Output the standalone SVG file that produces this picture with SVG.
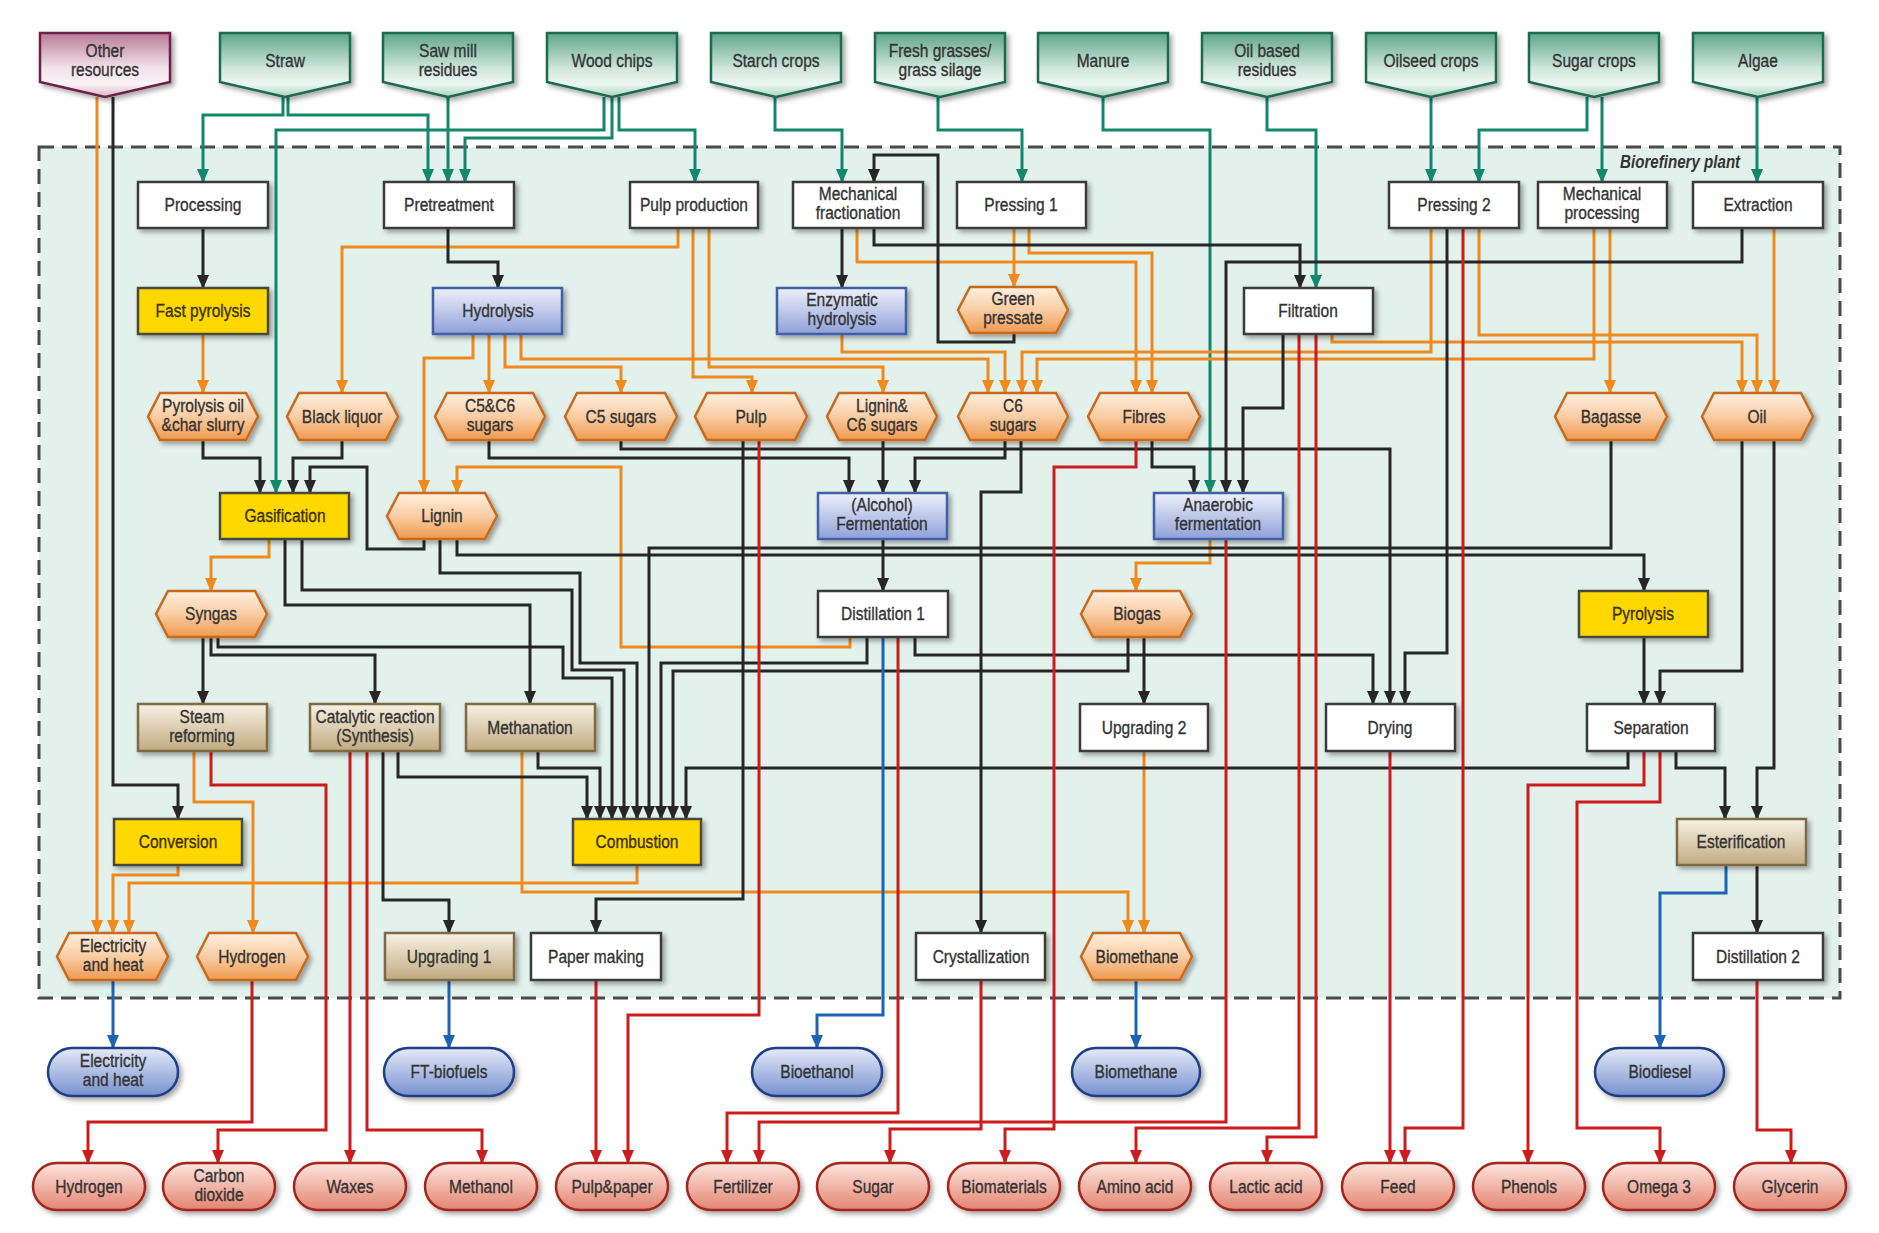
<svg xmlns="http://www.w3.org/2000/svg" width="1879" height="1233" viewBox="0 0 1879 1233">
<defs>
<style>
.t{font-family:"Liberation Sans",Arial,sans-serif;font-size:18.5px;fill:#333;stroke:#333;stroke-width:0.35px;text-anchor:middle;transform-box:fill-box;transform-origin:center;transform:scaleX(0.84);}
.ty{fill:#3a3000;stroke:#3a3000}
.lbl{font-family:"Liberation Sans",Arial,sans-serif;font-size:18px;font-weight:bold;font-style:italic;fill:#333;text-anchor:middle;transform-box:fill-box;transform-origin:center;transform:scaleX(0.84);}
.c path{fill:none;stroke-width:3;stroke-linejoin:miter}
.g{stroke:#12876a;marker-end:url(#ag)}
.o{stroke:#f08a1c;marker-end:url(#ao)}
.k{stroke:#262626;marker-end:url(#ak)}
.r{stroke:#cc1c1c;marker-end:url(#ar)}
.b{stroke:#1c64b4;marker-end:url(#ab)}
.src{fill:url(#gSrc);stroke:#1b6a4f;stroke-width:2.5;filter:url(#sh)}
.osrc{fill:url(#gOth);stroke:#6a2347;stroke-width:2.5;filter:url(#sh)}
.wb{fill:#fff;stroke:#3a3a3a;stroke-width:2.5;filter:url(#sh)}
.yb{fill:#ffd800;stroke:#4a4a3a;stroke-width:2.5;filter:url(#sh)}
.bb{fill:url(#gBlue);stroke:#3f5fa6;stroke-width:2.5;filter:url(#sh)}
.tb{fill:url(#gTan);stroke:#7d6a45;stroke-width:2.5;filter:url(#sh)}
.hx{fill:url(#gHex);stroke:#c8691c;stroke-width:2.5;filter:url(#sh)}
.bp{fill:url(#gBP);stroke:#1e3f85;stroke-width:2.5;filter:url(#sh)}
.rp{fill:url(#gRP);stroke:#a2281d;stroke-width:2.5;filter:url(#sh)}
</style>
<linearGradient id="gSrc" x1="0" y1="0" x2="0" y2="1"><stop offset="0" stop-color="#5ea58b"/><stop offset="0.55" stop-color="#cfe6dc"/><stop offset="0.8" stop-color="#eef7f3"/><stop offset="1" stop-color="#a8d2c2"/></linearGradient>
<linearGradient id="gOth" x1="0" y1="0" x2="0" y2="1"><stop offset="0" stop-color="#b97a98"/><stop offset="0.55" stop-color="#f3e3ea"/><stop offset="0.8" stop-color="#fbf3f6"/><stop offset="1" stop-color="#d8b4c4"/></linearGradient>
<linearGradient id="gBlue" x1="0" y1="0" x2="0" y2="1"><stop offset="0" stop-color="#eef1fb"/><stop offset="1" stop-color="#8ea0d8"/></linearGradient>
<linearGradient id="gTan" x1="0" y1="0" x2="0" y2="1"><stop offset="0" stop-color="#f8f2e4"/><stop offset="1" stop-color="#c0aa80"/></linearGradient>
<linearGradient id="gHex" x1="0" y1="0" x2="0" y2="1"><stop offset="0" stop-color="#fff0e0"/><stop offset="0.5" stop-color="#f9cda4"/><stop offset="1" stop-color="#ef9a4f"/></linearGradient>
<linearGradient id="gBP" x1="0" y1="0" x2="0" y2="1"><stop offset="0" stop-color="#e4eaf8"/><stop offset="1" stop-color="#7790cf"/></linearGradient>
<linearGradient id="gRP" x1="0" y1="0" x2="0" y2="1"><stop offset="0" stop-color="#fde6df"/><stop offset="1" stop-color="#e48470"/></linearGradient>
<filter id="sh" x="-10%" y="-10%" width="130%" height="150%"><feDropShadow dx="3" dy="3" stdDeviation="2.5" flood-color="#000" flood-opacity="0.35"/></filter>
<marker id="ag" viewBox="0 0 14 12" refX="13" refY="6" markerWidth="14" markerHeight="12" markerUnits="userSpaceOnUse" orient="auto"><path d="M0,0 L14,6 L0,12 z" fill="#12876a"/></marker>
<marker id="ao" viewBox="0 0 14 12" refX="13" refY="6" markerWidth="14" markerHeight="12" markerUnits="userSpaceOnUse" orient="auto"><path d="M0,0 L14,6 L0,12 z" fill="#f08a1c"/></marker>
<marker id="ak" viewBox="0 0 14 12" refX="13" refY="6" markerWidth="14" markerHeight="12" markerUnits="userSpaceOnUse" orient="auto"><path d="M0,0 L14,6 L0,12 z" fill="#262626"/></marker>
<marker id="ar" viewBox="0 0 14 12" refX="13" refY="6" markerWidth="14" markerHeight="12" markerUnits="userSpaceOnUse" orient="auto"><path d="M0,0 L14,6 L0,12 z" fill="#cc1c1c"/></marker>
<marker id="ab" viewBox="0 0 14 12" refX="13" refY="6" markerWidth="14" markerHeight="12" markerUnits="userSpaceOnUse" orient="auto"><path d="M0,0 L14,6 L0,12 z" fill="#1c64b4"/></marker>
</defs>
<rect width="1879" height="1233" fill="#fff"/>
<g id="plant">
<rect x="39" y="147" width="1801" height="851" fill="#e3f1ed" stroke="#4a4a4a" stroke-width="3" stroke-dasharray="15 8"/>
<text class="lbl" x="1680" y="168">Biorefinery plant</text>
</g>
<g id="connectors" class="c">
<path class="g" d="M283 97 V115 H203 V182"/>
<path class="g" d="M288 97 V115 H428 V182"/>
<path class="g" d="M448 97 V182"/>
<path class="g" d="M612 97 V138 H465 V182"/>
<path class="g" d="M604 97 V130 H276 V493"/>
<path class="g" d="M619 97 V130 H695 V182"/>
<path class="g" d="M775 97 V130 H842 V182"/>
<path class="g" d="M938 97 V130 H1022 V182"/>
<path class="g" d="M1103 97 V130 H1210 V493"/>
<path class="g" d="M1267 97 V130 H1316 V288"/>
<path class="g" d="M1431 97 V182"/>
<path class="g" d="M1587 97 V130 H1479 V182"/>
<path class="g" d="M1602 97 V182"/>
<path class="g" d="M1757 97 V182"/>
<path class="o" d="M97 97 V933"/>
<path class="o" d="M203 334 V393"/>
<path class="o" d="M678 228 V247 H342 V393"/>
<path class="o" d="M693 228 V377 H752 V393"/>
<path class="o" d="M709 228 V367 H883 V393"/>
<path class="o" d="M473 334 V358 H424 V493"/>
<path class="o" d="M489 334 V393"/>
<path class="o" d="M505 334 V367 H621 V393"/>
<path class="o" d="M521 334 V359 H988 V393"/>
<path class="o" d="M842 334 V352 H1005 V393"/>
<path class="o" d="M1431 228 V352 H1022 V393"/>
<path class="o" d="M1594 228 V359 H1037 V393"/>
<path class="o" d="M857 228 V262 H1136 V393"/>
<path class="o" d="M1014 228 V287"/>
<path class="o" d="M1029 228 V253 H1152 V393"/>
<path class="o" d="M1332 334 V342 H1742 V393"/>
<path class="o" d="M1479 228 V335 H1757 V393"/>
<path class="o" d="M1774 228 V393"/>
<path class="o" d="M1610 228 V393"/>
<path class="o" d="M269 539 V557 H211 V591"/>
<path class="o" d="M850 637 V647 H621 V467 H457 V493"/>
<path class="o" d="M1210 539 V563 H1136 V591"/>
<path class="o" d="M194 751 V802 H253 V933"/>
<path class="o" d="M178 865 V875 H113 V933"/>
<path class="o" d="M637 865 V883 H129 V933"/>
<path class="o" d="M522 751 V892 H1128 V933"/>
<path class="o" d="M1144 751 V933"/>
<path class="k" d="M113 97 V785 H178 V819"/>
<path class="k" d="M203 228 V288"/>
<path class="k" d="M448 228 V262 H498 V288"/>
<path class="k" d="M842 228 V288"/>
<path class="k" d="M874 228 V245 H1300 V288"/>
<path class="k" d="M1014 333 V342 H938 V155 H874 V182"/>
<path class="k" d="M1742 228 V262 H1226 V493"/>
<path class="k" d="M1283 334 V408 H1243 V493"/>
<path class="k" d="M203 440 V458 H260 V493"/>
<path class="k" d="M342 440 V458 H293 V493"/>
<path class="k" d="M424 539 V549 H367 V467 H310 V493"/>
<path class="k" d="M457 539 V555 H1644 V591"/>
<path class="k" d="M440 539 V573 H580 V663 H637 V819"/>
<path class="k" d="M489 440 V458 H849 V493"/>
<path class="k" d="M621 440 V449 H1390 V704"/>
<path class="k" d="M883 440 V493"/>
<path class="k" d="M1005 440 V458 H915 V493"/>
<path class="k" d="M1021 440 V492 H981 V933"/>
<path class="k" d="M1152 440 V467 H1194 V493"/>
<path class="k" d="M883 539 V591"/>
<path class="k" d="M285 539 V605 H530 V704"/>
<path class="k" d="M302 539 V590 H572 V670 H624 V819"/>
<path class="k" d="M203 637 V704"/>
<path class="k" d="M211 637 V655 H375 V704"/>
<path class="k" d="M218 637 V647 H563 V678 H612 V819"/>
<path class="k" d="M398 751 V777 H587 V819"/>
<path class="k" d="M538 751 V768 H600 V819"/>
<path class="k" d="M1611 440 V548 H649 V819"/>
<path class="k" d="M867 637 V663 H661 V819"/>
<path class="k" d="M1128 637 V671 H673 V819"/>
<path class="k" d="M1628 751 V768 H686 V819"/>
<path class="k" d="M915 637 V655 H1373 V704"/>
<path class="k" d="M1144 637 V704"/>
<path class="k" d="M1447 228 V653 H1405 V704"/>
<path class="k" d="M1644 637 V704"/>
<path class="k" d="M1742 440 V671 H1660 V704"/>
<path class="k" d="M1774 440 V768 H1757 V819"/>
<path class="k" d="M1676 751 V768 H1725 V819"/>
<path class="k" d="M1757 865 V933"/>
<path class="k" d="M743 440 V899 H596 V933"/>
<path class="k" d="M383 751 V900 H449 V933"/>
<path class="r" d="M252 980 V1122 H88 V1163"/>
<path class="r" d="M211 751 V785 H326 V1130 H218 V1163"/>
<path class="r" d="M350 751 V1163"/>
<path class="r" d="M367 751 V1130 H482 V1163"/>
<path class="r" d="M596 980 V1163"/>
<path class="r" d="M759 440 V1015 H628 V1163"/>
<path class="r" d="M898 637 V1113 H727 V1163"/>
<path class="r" d="M1226 539 V1122 H759 V1163"/>
<path class="r" d="M981 980 V1129 H890 V1163"/>
<path class="r" d="M1136 440 V467 H1054 V1129 H1005 V1163"/>
<path class="r" d="M1299 334 V1128 H1136 V1163"/>
<path class="r" d="M1316 334 V1137 H1267 V1163"/>
<path class="r" d="M1390 751 V1163"/>
<path class="r" d="M1463 228 V1128 H1405 V1163"/>
<path class="r" d="M1644 751 V785 H1528 V1163"/>
<path class="r" d="M1660 751 V802 H1577 V1128 H1660 V1163"/>
<path class="r" d="M1757 980 V1130 H1791 V1163"/>
<path class="b" d="M113 980 V1048"/>
<path class="b" d="M449 980 V1048"/>
<path class="b" d="M883 637 V1015 H817 V1048"/>
<path class="b" d="M1136 980 V1048"/>
<path class="b" d="M1726 865 V893 H1660 V1048"/>
</g>
<g id="n-other"><polygon class="osrc" points="40,33 170,33 170,82 105,97 40,82"/><text class="t" x="105" y="57">Other<tspan x="105" dy="19">resources</tspan></text></g>
<g id="n-straw"><polygon class="src" points="220,33 350,33 350,82 285,97 220,82"/><text class="t" x="285" y="67.5">Straw</text></g>
<g id="n-saw"><polygon class="src" points="383,33 513,33 513,82 448,97 383,82"/><text class="t" x="448" y="57">Saw mill<tspan x="448" dy="19">residues</tspan></text></g>
<g id="n-wood"><polygon class="src" points="547,33 677,33 677,82 612,97 547,82"/><text class="t" x="612" y="67.5">Wood chips</text></g>
<g id="n-starch"><polygon class="src" points="711,33 841,33 841,82 776,97 711,82"/><text class="t" x="776" y="67.5">Starch crops</text></g>
<g id="n-fresh"><polygon class="src" points="875,33 1005,33 1005,82 940,97 875,82"/><text class="t" x="940" y="57">Fresh grasses/<tspan x="940" dy="19">grass silage</tspan></text></g>
<g id="n-manure"><polygon class="src" points="1038,33 1168,33 1168,82 1103,97 1038,82"/><text class="t" x="1103" y="67.5">Manure</text></g>
<g id="n-oilres"><polygon class="src" points="1202,33 1332,33 1332,82 1267,97 1202,82"/><text class="t" x="1267" y="57">Oil based<tspan x="1267" dy="19">residues</tspan></text></g>
<g id="n-oilseed"><polygon class="src" points="1366,33 1496,33 1496,82 1431,97 1366,82"/><text class="t" x="1431" y="67.5">Oilseed crops</text></g>
<g id="n-sugarcrops"><polygon class="src" points="1529,33 1659,33 1659,82 1594,97 1529,82"/><text class="t" x="1594" y="67.5">Sugar crops</text></g>
<g id="n-algae"><polygon class="src" points="1693,33 1823,33 1823,82 1758,97 1693,82"/><text class="t" x="1758" y="67.5">Algae</text></g>
<g id="n-processing"><rect class="wb" x="138" y="182" width="130" height="46"/><text class="t" x="203" y="211.5">Processing</text></g>
<g id="n-pretreatment"><rect class="wb" x="384" y="182" width="130" height="46"/><text class="t" x="449" y="211.5">Pretreatment</text></g>
<g id="n-pulpprod"><rect class="wb" x="630" y="182" width="128" height="46"/><text class="t" x="694" y="211.5">Pulp production</text></g>
<g id="n-mechfrac"><rect class="wb" x="793" y="182" width="130" height="46"/><text class="t" x="858" y="200">Mechanical<tspan x="858" dy="19">fractionation</tspan></text></g>
<g id="n-pressing1"><rect class="wb" x="957" y="182" width="129" height="46"/><text class="t" x="1021" y="211.5">Pressing 1</text></g>
<g id="n-pressing2"><rect class="wb" x="1389" y="182" width="130" height="46"/><text class="t" x="1454" y="211.5">Pressing 2</text></g>
<g id="n-mechproc"><rect class="wb" x="1538" y="182" width="129" height="46"/><text class="t" x="1602" y="200">Mechanical<tspan x="1602" dy="19">processing</tspan></text></g>
<g id="n-extraction"><rect class="wb" x="1693" y="182" width="130" height="46"/><text class="t" x="1758" y="211.5">Extraction</text></g>
<g id="n-fastpyro"><rect class="yb" x="138" y="288" width="130" height="46"/><text class="t ty" x="203" y="317.5">Fast pyrolysis</text></g>
<g id="n-hydrolysis"><rect class="bb" x="433" y="288" width="129" height="46"/><text class="t" x="498" y="317.5">Hydrolysis</text></g>
<g id="n-enzymatic"><rect class="bb" x="777" y="288" width="129" height="46"/><text class="t" x="842" y="306">Enzymatic<tspan x="842" dy="19">hydrolysis</tspan></text></g>
<g id="n-greenpress"><polygon class="hx" points="970,287 1056,287 1068,310 1056,333 970,333 958,310"/><text class="t" x="1013" y="305">Green<tspan x="1013" dy="19">pressate</tspan></text></g>
<g id="n-filtration"><rect class="wb" x="1244" y="288" width="129" height="46"/><text class="t" x="1308" y="317.5">Filtration</text></g>
<g id="n-pyrooil"><polygon class="hx" points="160,393 246,393 258,416.5 246,440 160,440 148,416.5"/><text class="t" x="203" y="412">Pyrolysis oil<tspan x="203" dy="19">&amp;char slurry</tspan></text></g>
<g id="n-blackliq"><polygon class="hx" points="299,393 386,393 398,416.5 386,440 299,440 287,416.5"/><text class="t" x="342" y="423">Black liquor</text></g>
<g id="n-c5c6"><polygon class="hx" points="447,393 533,393 545,416.5 533,440 447,440 435,416.5"/><text class="t" x="490" y="412">C5&amp;C6<tspan x="490" dy="19">sugars</tspan></text></g>
<g id="n-c5"><polygon class="hx" points="577,393 665,393 677,416.5 665,440 577,440 565,416.5"/><text class="t" x="621" y="423">C5 sugars</text></g>
<g id="n-pulp"><polygon class="hx" points="707,393 795,393 807,416.5 795,440 707,440 695,416.5"/><text class="t" x="751" y="423">Pulp</text></g>
<g id="n-ligc6"><polygon class="hx" points="839,393 925,393 937,416.5 925,440 839,440 827,416.5"/><text class="t" x="882" y="412">Lignin&amp;<tspan x="882" dy="19">C6 sugars</tspan></text></g>
<g id="n-c6"><polygon class="hx" points="970,393 1056,393 1068,416.5 1056,440 970,440 958,416.5"/><text class="t" x="1013" y="412">C6<tspan x="1013" dy="19">sugars</tspan></text></g>
<g id="n-fibres"><polygon class="hx" points="1100,393 1188,393 1200,416.5 1188,440 1100,440 1088,416.5"/><text class="t" x="1144" y="423">Fibres</text></g>
<g id="n-bagasse"><polygon class="hx" points="1567,393 1655,393 1667,416.5 1655,440 1567,440 1555,416.5"/><text class="t" x="1611" y="423">Bagasse</text></g>
<g id="n-oil"><polygon class="hx" points="1714,393 1801,393 1813,416.5 1801,440 1714,440 1702,416.5"/><text class="t" x="1757" y="423">Oil</text></g>
<g id="n-gasification"><rect class="yb" x="220" y="493" width="129" height="46"/><text class="t ty" x="285" y="522.5">Gasification</text></g>
<g id="n-lignin"><polygon class="hx" points="399,493 485,493 497,516 485,539 399,539 387,516"/><text class="t" x="442" y="522.5">Lignin</text></g>
<g id="n-fermentation"><rect class="bb" x="818" y="493" width="129" height="46"/><text class="t" x="882" y="511">(Alcohol)<tspan x="882" dy="19">Fermentation</tspan></text></g>
<g id="n-anaerobic"><rect class="bb" x="1154" y="493" width="129" height="46"/><text class="t" x="1218" y="511">Anaerobic<tspan x="1218" dy="19">fermentation</tspan></text></g>
<g id="n-syngas"><polygon class="hx" points="168,591 255,591 267,614 255,637 168,637 156,614"/><text class="t" x="211" y="620.5">Syngas</text></g>
<g id="n-dist1"><rect class="wb" x="818" y="591" width="130" height="46"/><text class="t" x="883" y="620.5">Distillation 1</text></g>
<g id="n-biogas"><polygon class="hx" points="1093,591 1180,591 1192,614 1180,637 1093,637 1081,614"/><text class="t" x="1137" y="620.5">Biogas</text></g>
<g id="n-pyrolysis"><rect class="yb" x="1579" y="591" width="129" height="46"/><text class="t ty" x="1643" y="620.5">Pyrolysis</text></g>
<g id="n-steam"><rect class="tb" x="138" y="704" width="129" height="47"/><text class="t" x="202" y="723">Steam<tspan x="202" dy="19">reforming</tspan></text></g>
<g id="n-catalytic"><rect class="tb" x="310" y="704" width="130" height="47"/><text class="t" x="375" y="723">Catalytic reaction<tspan x="375" dy="19">(Synthesis)</tspan></text></g>
<g id="n-methanation"><rect class="tb" x="466" y="704" width="129" height="47"/><text class="t" x="530" y="734">Methanation</text></g>
<g id="n-upgrading2"><rect class="wb" x="1080" y="704" width="128" height="47"/><text class="t" x="1144" y="734">Upgrading 2</text></g>
<g id="n-drying"><rect class="wb" x="1326" y="704" width="129" height="47"/><text class="t" x="1390" y="734">Drying</text></g>
<g id="n-separation"><rect class="wb" x="1587" y="704" width="128" height="47"/><text class="t" x="1651" y="734">Separation</text></g>
<g id="n-conversion"><rect class="yb" x="114" y="819" width="128" height="46"/><text class="t ty" x="178" y="848.5">Conversion</text></g>
<g id="n-combustion"><rect class="yb" x="573" y="819" width="128" height="46"/><text class="t ty" x="637" y="848.5">Combustion</text></g>
<g id="n-esterification"><rect class="tb" x="1677" y="819" width="129" height="46"/><text class="t" x="1741" y="848.5">Esterification</text></g>
<g id="n-elecheat"><polygon class="hx" points="69,933 156,933 168,956.5 156,980 69,980 57,956.5"/><text class="t" x="113" y="952">Electricity<tspan x="113" dy="19">and heat</tspan></text></g>
<g id="n-hydrogenhex"><polygon class="hx" points="209,933 296,933 308,956.5 296,980 209,980 197,956.5"/><text class="t" x="252" y="963">Hydrogen</text></g>
<g id="n-upgrading1"><rect class="tb" x="385" y="933" width="129" height="47"/><text class="t" x="449" y="963">Upgrading 1</text></g>
<g id="n-papermaking"><rect class="wb" x="531" y="933" width="130" height="47"/><text class="t" x="596" y="963">Paper making</text></g>
<g id="n-crystallization"><rect class="wb" x="916" y="933" width="129" height="47"/><text class="t" x="981" y="963">Crystallization</text></g>
<g id="n-biomethanehex"><polygon class="hx" points="1093,933 1180,933 1192,956.5 1180,980 1093,980 1081,956.5"/><text class="t" x="1137" y="963">Biomethane</text></g>
<g id="n-dist2"><rect class="wb" x="1693" y="933" width="130" height="47"/><text class="t" x="1758" y="963">Distillation 2</text></g>
<g id="n-elecpill"><rect class="bp" x="48" y="1048" width="130" height="48" rx="24"/><text class="t" x="113" y="1067">Electricity<tspan x="113" dy="19">and heat</tspan></text></g>
<g id="n-ft"><rect class="bp" x="384" y="1048" width="130" height="48" rx="24"/><text class="t" x="449" y="1078.5">FT-biofuels</text></g>
<g id="n-bioethanol"><rect class="bp" x="752" y="1048" width="130" height="48" rx="24"/><text class="t" x="817" y="1078.5">Bioethanol</text></g>
<g id="n-biomethanepill"><rect class="bp" x="1072" y="1048" width="128" height="48" rx="24"/><text class="t" x="1136" y="1078.5">Biomethane</text></g>
<g id="n-biodiesel"><rect class="bp" x="1595" y="1048" width="129" height="48" rx="24"/><text class="t" x="1660" y="1078.5">Biodiesel</text></g>
<g id="p-hydrogen"><rect class="rp" x="33" y="1163" width="112" height="47" rx="23.5"/><text class="t" x="89" y="1193">Hydrogen</text></g>
<g id="p-co2"><rect class="rp" x="163" y="1163" width="112" height="47" rx="23.5"/><text class="t" x="219" y="1182">Carbon<tspan x="219" dy="19">dioxide</tspan></text></g>
<g id="p-waxes"><rect class="rp" x="294" y="1163" width="112" height="47" rx="23.5"/><text class="t" x="350" y="1193">Waxes</text></g>
<g id="p-methanol"><rect class="rp" x="425" y="1163" width="112" height="47" rx="23.5"/><text class="t" x="481" y="1193">Methanol</text></g>
<g id="p-pulppaper"><rect class="rp" x="556" y="1163" width="112" height="47" rx="23.5"/><text class="t" x="612" y="1193">Pulp&amp;paper</text></g>
<g id="p-fertilizer"><rect class="rp" x="687" y="1163" width="112" height="47" rx="23.5"/><text class="t" x="743" y="1193">Fertilizer</text></g>
<g id="p-sugar"><rect class="rp" x="817" y="1163" width="112" height="47" rx="23.5"/><text class="t" x="873" y="1193">Sugar</text></g>
<g id="p-biomaterials"><rect class="rp" x="948" y="1163" width="112" height="47" rx="23.5"/><text class="t" x="1004" y="1193">Biomaterials</text></g>
<g id="p-amino"><rect class="rp" x="1079" y="1163" width="112" height="47" rx="23.5"/><text class="t" x="1135" y="1193">Amino acid</text></g>
<g id="p-lactic"><rect class="rp" x="1210" y="1163" width="112" height="47" rx="23.5"/><text class="t" x="1266" y="1193">Lactic acid</text></g>
<g id="p-feed"><rect class="rp" x="1342" y="1163" width="112" height="47" rx="23.5"/><text class="t" x="1398" y="1193">Feed</text></g>
<g id="p-phenols"><rect class="rp" x="1473" y="1163" width="112" height="47" rx="23.5"/><text class="t" x="1529" y="1193">Phenols</text></g>
<g id="p-omega3"><rect class="rp" x="1603" y="1163" width="112" height="47" rx="23.5"/><text class="t" x="1659" y="1193">Omega 3</text></g>
<g id="p-glycerin"><rect class="rp" x="1734" y="1163" width="112" height="47" rx="23.5"/><text class="t" x="1790" y="1193">Glycerin</text></g>
</svg>
